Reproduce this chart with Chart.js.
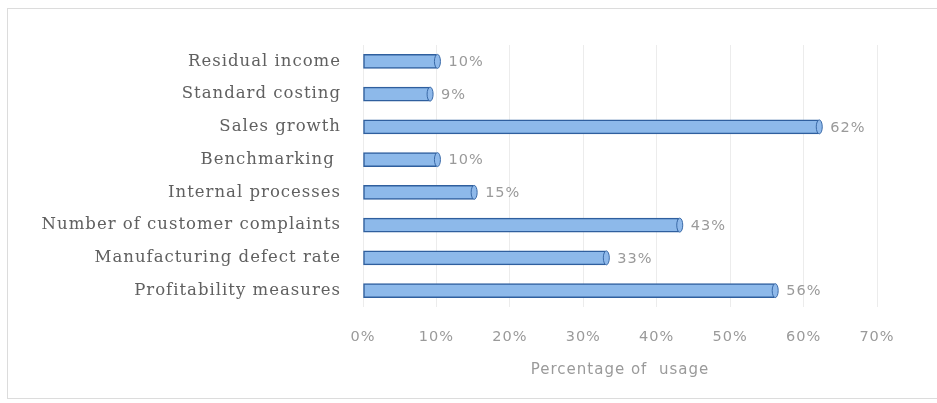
<!DOCTYPE html>
<html><head><meta charset="utf-8">
<script src="https://cdn.jsdelivr.net/npm/chart.js@4/dist/chart.umd.min.js"></script>
<style>
html,body{margin:0;padding:0;background:#fff;}
#wrap{position:absolute;left:0;top:0;width:937px;height:403px;}
#frame{position:absolute;left:7px;top:8px;width:940px;height:391px;border:1px solid #dcdcdc;box-sizing:border-box;}
</style></head>
<body>
<div id="frame"></div>
<div id="wrap"><canvas id="c" width="937" height="403"></canvas></div>
<script>
const categories = ["Residual income","Standard costing","Sales growth","Benchmarking ","Internal processes","Number of customer complaints","Manufacturing defect rate","Profitability measures"];
const usage = [10, 9, 62, 10, 15, 43, 33, 56];
const xTicks = [0,10,20,30,40,50,60,70];
const xTitle = "Percentage of  usage";

const spacing = {
  id:'spacing',
  beforeDraw(chart){ chart.ctx.letterSpacing = '1px'; }
};

const valueLabels = {
  id:'valueLabels',
  afterDatasetsDraw(chart){
    const ctx = chart.ctx;
    const meta = chart.getDatasetMeta(0);
    ctx.save();
    ctx.font = '14.5px "DejaVu Sans", sans-serif';
    ctx.textBaseline = 'middle';
    meta.data.forEach((bar,i)=>{
      ctx.strokeStyle = '#3a6aa8';
      ctx.lineWidth = 1;
      ctx.beginPath();
      ctx.ellipse(bar.x + 1, bar.y, 3, bar.height/2, 0, 0, Math.PI*2);
      ctx.fillStyle = '#8fb9ea';
      ctx.fill();
      ctx.stroke();
      ctx.fillStyle = '#9a9a9a';
      ctx.fillText(usage[i] + '%', bar.x + 12, bar.y + 1);
    });
    ctx.restore();
  }
};

new Chart(document.getElementById('c'), {
  type:'bar',
  data:{labels:categories, datasets:[{
    data:usage,
    backgroundColor:(c)=>{
      const el = c.element; const ctx = c.chart.ctx;
      if(!el || el.y===undefined) return '#8db9ea';
      const h = 14;
      const g = ctx.createLinearGradient(0, el.y-h/2, 0, el.y+h/2);
      g.addColorStop(0,'#5c8fd0');
      g.addColorStop(0.25,'#c5dcf6');
      g.addColorStop(0.6,'#9cc2ee');
      g.addColorStop(1,'#5a8cd0');
      return g;
    },
    borderColor:'#2f5f9e',
    borderWidth:1.5,
    barThickness:14,
    borderSkipped:false
  }]},
  options:{
    indexAxis:'y',
    responsive:false,
    animation:false,
    layout:{padding:{top:45,right:60,bottom:0,left:0}},
    plugins:{legend:{display:false},tooltip:{enabled:false}},
    scales:{
      x:{
        min:0,max:70,
        afterBuildTicks(s){ s.ticks = xTicks.map(v=>({value:v})); },
        afterFit(s){ s.height = 96; },
        grid:{color:'#ececec',drawTicks:false,lineWidth:1},
        border:{display:false},
        ticks:{padding:22,color:'#9a9a9a',font:{family:'"DejaVu Sans", sans-serif',size:14.5},callback:(v)=>v+'%'},
        title:{display:true,text:xTitle,color:'#9a9a9a',font:{family:'"DejaVu Sans", sans-serif',size:15},padding:{top:10,bottom:24}}
      },
      y:{
        afterFit(s){ s.width = 363; },
        grid:{display:false,drawTicks:false},
        border:{display:false},
        ticks:{padding:22,color:'#606060',font:{family:'"DejaVu Serif", serif',size:16.5}}
      }
    }
  },
  plugins:[spacing, valueLabels]
});
</script>
</body></html>
